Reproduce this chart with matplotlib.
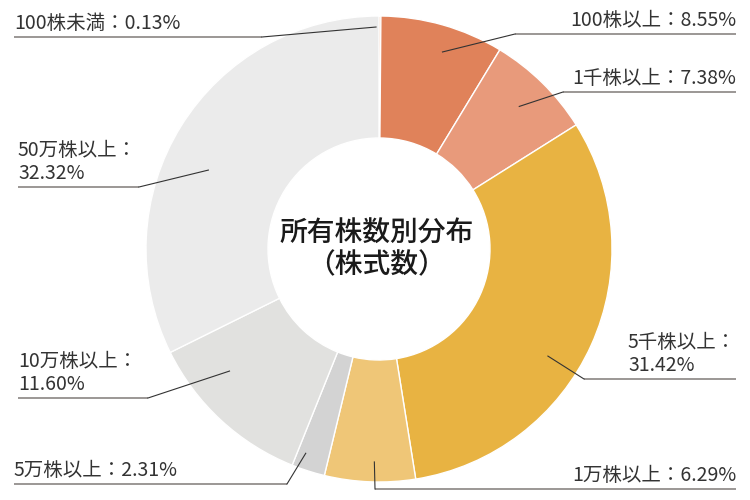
import numpy as np
import matplotlib
matplotlib.use('Agg')
from matplotlib import pyplot as plt

plt.rcParams['font.family'] = ['Noto Sans CJK JP', 'DejaVu Sans']

labels = ['100株未満', '100株以上', '1千株以上', '5千株以上',
          '1万株以上', '5万株以上', '10万株以上', '50万株以上']
shares = [0.13, 8.55, 7.38, 31.42, 6.29, 2.31, 11.60, 32.32]
colors = ['#e0692c', '#e0825a', '#e89a7b', '#e8b342',
          '#efc677', '#d3d3d3', '#e1e1df', '#ebebeb']
title_lines = ['所有株数別分布', '（株式数）']

W, H = 750, 500
CX, CY, R, RIN = 379, 249, 233, 111

# label layout in pixel coords (y downward):
# (text x, ha, underline y, line x0, line x1, elbow x, two lines?,
#  anchor radius, anchor shift clockwise in degrees)
layout = [
    (14, 'left', 37, 14, 262, 262, False, 222, -1),
    (736, 'right', 34, 515, 736, 515, False, 207, 2),
    (736, 'right', 92, 563, 736, 563, False, 200, 0),
    (628, 'left', 379, 584, 736, 584, True, 200, 8),
    (736, 'right', 489, 375, 736, 375, False, 213, -1),
    (14, 'left', 484, 14, 287, 287, False, 217, 2),
    (18, 'left', 398, 18, 148, 148, True, 193, 8),
    (18, 'left', 187, 18, 139, 139, True, 188, -7),
]


def fy(y):
    return H - y


fig = plt.figure(figsize=(7.5, 5), dpi=100)
ax = fig.add_axes([0, 0, 1, 1])

wedges, _ = ax.pie(shares, colors=colors, startangle=90, counterclock=False,
                   center=(CX, fy(CY)), radius=R, frame=True,
                   wedgeprops=dict(width=R - RIN, edgecolor='white', linewidth=1))
ax.set_xlim(0, W)
ax.set_ylim(0, H)
ax.set_aspect('equal')
ax.axis('off')

for i, w in enumerate(wedges):
    tx, ha, uy, x0, x1, ex, two, ar, shift = layout[i]
    mid = np.deg2rad((w.theta1 + w.theta2) / 2 - shift)
    px = CX + ar * np.cos(mid)
    py = fy(CY) + ar * np.sin(mid)
    ax.plot([x0, x1], [fy(uy), fy(uy)], color='#8a8583', lw=1.2,
            solid_capstyle='butt')
    ax.plot([px, ex], [py, fy(uy)], color='#333333', lw=0.8)
    if two:
        txt = labels[i] + '：\n' + f'{shares[i]:.2f}%'
    else:
        txt = labels[i] + '：' + f'{shares[i]:.2f}%'
    ax.text(tx, fy(uy) + 3, txt, ha=ha, va='bottom', fontsize=14,
            color='#333333', linespacing=1.15)

ax.text(CX - 2, fy(233), title_lines[0], ha='center', va='center',
        fontsize=20, color='#1a1a1a', fontweight='medium')
ax.text(CX - 2, fy(265), title_lines[1], ha='center', va='center',
        fontsize=20, color='#1a1a1a', fontweight='medium')

fig.savefig('out.png', dpi=100)
